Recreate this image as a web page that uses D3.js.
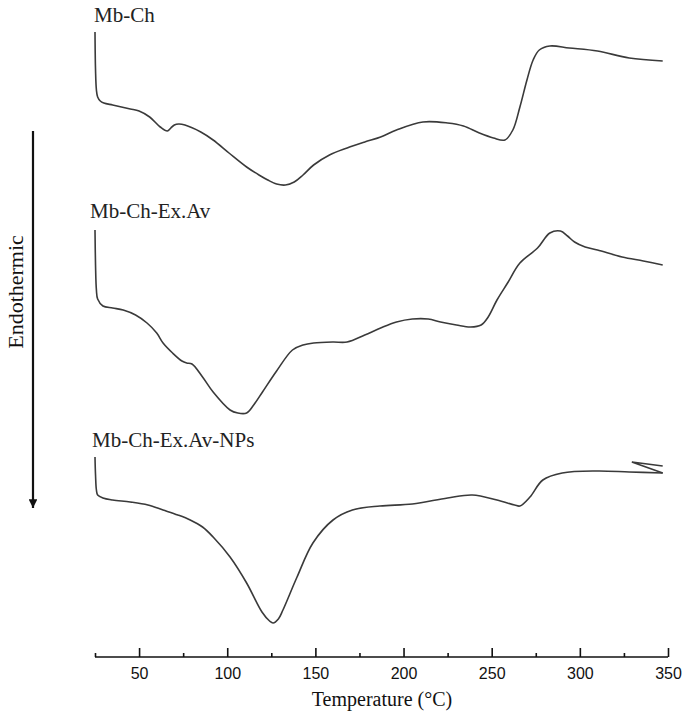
<!DOCTYPE html>
<html>
<head>
<meta charset="utf-8">
<script src="https://cdn.jsdelivr.net/npm/d3@7"></script>
<style>
  body { margin: 0; background: #fff; }
</style>
</head>
<body>
<div id="chart"></div>
<script>
// DSC thermograms, heat flow in arbitrary units (endothermic = larger value, drawn downward)
var mbChT = [25, 25.3, 25.8, 26.5, 28, 30, 35, 40, 45, 50, 56, 62, 66, 68, 70, 72.5, 76, 85, 92, 101, 111, 118, 123, 128, 133, 138, 143, 149, 158, 168, 178, 187, 196, 211, 225, 234, 243, 251, 257.5, 262, 266, 270, 273.5, 277, 283, 294, 310, 328, 347];
var mbChV = [1.5, 5.3, 7.3, 8.0, 8.4, 8.6, 8.8, 9.0, 9.2, 9.4, 10.0, 11.0, 11.4, 11.1, 10.8, 10.7, 10.8, 11.5, 12.3, 13.6, 15.0, 15.8, 16.3, 16.7, 16.8, 16.5, 15.8, 14.8, 13.8, 13.1, 12.5, 12.0, 11.3, 10.5, 10.6, 10.9, 11.6, 12.1, 12.3, 11.3, 9.0, 6.3, 4.3, 3.3, 2.9, 3.1, 3.4, 4.1, 4.4];

var exAvT = [25, 25.3, 25.8, 26.5, 29.5, 35, 41, 48, 54.5, 60, 63.6, 69, 74.3, 77, 80, 86, 92, 101.6, 106, 111, 115, 120, 128, 137, 143, 149, 160, 168, 178, 187, 196, 205, 214, 221, 230, 238, 244, 248, 253, 259, 266, 276, 283, 289, 293, 297, 303, 310, 324, 336, 347];
var exAvV = [21.3, 24.8, 27.3, 28.2, 28.9, 29.1, 29.3, 29.8, 30.6, 31.6, 32.6, 33.6, 34.4, 34.6, 34.7, 36.0, 37.5, 39.3, 39.6, 39.6, 38.8, 37.5, 35.4, 33.3, 32.8, 32.6, 32.5, 32.5, 31.8, 31.1, 30.5, 30.2, 30.2, 30.5, 30.8, 31.0, 30.8, 30.0, 28.3, 26.6, 24.6, 23.1, 21.6, 21.4, 21.9, 22.5, 23.0, 23.3, 24.0, 24.4, 24.8];

var npsT = [25, 25.3, 25.8, 26.5, 29.5, 35, 45, 55, 63.6, 72, 79, 86, 92, 101.6, 111, 119.7, 124, 126, 129, 131.6, 139.6, 148.6, 160, 171, 186.6, 205, 225, 239, 253, 263, 266, 271.7, 279, 290, 310, 328, 347];
var npsV = [44.0, 45.8, 47.3, 47.8, 48.1, 48.3, 48.5, 48.8, 49.3, 49.8, 50.3, 51.0, 52.0, 54.0, 56.6, 59.5, 60.4, 60.6, 60.2, 59.3, 56.0, 52.6, 50.3, 49.3, 48.9, 48.7, 48.1, 47.8, 48.3, 48.8, 48.9, 48.0, 46.3, 45.6, 45.4, 45.5, 45.6];
// cooling artefact at the end of the NPs run
var npsTailT = [347, 329.5, 347];
var npsTailV = [45.6, 44.5, 44.9];

var seriesNames = ["Mb-Ch", "Mb-Ch-Ex.Av", "Mb-Ch-Ex.Av-NPs"];
var xTicks = [25, 50, 75, 100, 125, 150, 175, 200, 225, 250, 275, 300, 325, 350];

var svgWidth = 685;
var svgHeight = 720;

var svg = d3.select("#chart")
    .append("svg")
    .attr("width", svgWidth)
    .attr("height", svgHeight);

var xScale = d3.scaleLinear()
    .domain([25, 350])
    .range([95, 668]);

// value grows downward, like the endothermic arrow
var yScale = d3.scaleLinear()
    .domain([0, 64])
    .range([17, 657]);

function zip(ts, vs) {
    return ts.map((t, i) => ({ t: t, v: vs[i] }));
}

var smoothLine = d3.line()
    .x(d => xScale(d.t))
    .y(d => yScale(d.v))
    .curve(d3.curveCatmullRom.alpha(0.5));

var straightLine = d3.line()
    .x(d => xScale(d.t))
    .y(d => yScale(d.v));

var curves = [zip(mbChT, mbChV), zip(exAvT, exAvV), zip(npsT, npsV)];

svg.selectAll("path.curve")
    .data(curves)
    .enter()
    .append("path")
    .attr("class", "curve")
    .attr("d", smoothLine)
    .attr("fill", "none")
    .attr("stroke", "#3a3a3a")
    .attr("stroke-width", 1.6);

svg.append("path")
    .attr("d", straightLine(zip(npsTailT, npsTailV)))
    .attr("fill", "none")
    .attr("stroke", "#3a3a3a")
    .attr("stroke-width", 1.6);

// curve labels
var labelPos = [[94, 22], [90, 218], [92, 447]];
svg.selectAll("text.series")
    .data(seriesNames)
    .enter()
    .append("text")
    .attr("class", "series")
    .attr("x", (d, i) => labelPos[i][0])
    .attr("y", (d, i) => labelPos[i][1])
    .attr("font-family", "'Liberation Serif', 'Times New Roman', serif")
    .attr("font-size", 21)
    .attr("fill", "#222")
    .text(d => d);

// x axis, ticks pointing up, labels every 50
var xAxis = d3.axisBottom(xScale)
    .tickValues(xTicks)
    .tickSize(-9)
    .tickPadding(11)
    .tickFormat(d => d % 50 === 0 ? d : "");

var axisG = svg.append("g")
    .attr("transform", "translate(0, 657)")
    .call(xAxis);

axisG.select(".domain")
    .attr("stroke", "#111")
    .attr("stroke-width", 1.6)
    .attr("d", `M${xScale(25)},0H${xScale(350)}`);

axisG.selectAll(".tick line")
    .attr("stroke", "#111")
    .attr("stroke-width", 1.6)
    .attr("y2", d => d % 50 === 0 ? -9 : -4);

axisG.selectAll(".tick text")
    .attr("font-family", "'Liberation Sans', Arial, sans-serif")
    .attr("font-size", 16)
    .attr("fill", "#111");

svg.append("text")
    .attr("x", 382)
    .attr("y", 706)
    .attr("text-anchor", "middle")
    .attr("font-family", "'Liberation Serif', 'Times New Roman', serif")
    .attr("font-size", 20)
    .attr("fill", "#111")
    .text("Temperature (°C)");

// endothermic arrow
svg.append("defs").append("marker")
    .attr("id", "head")
    .attr("viewBox", "0 0 10 10")
    .attr("refX", 10)
    .attr("refY", 5)
    .attr("markerWidth", 4)
    .attr("markerHeight", 4)
    .attr("orient", "auto")
    .append("path")
    .attr("d", "M0,0L10,5L0,10Z")
    .attr("fill", "#111");

svg.append("line")
    .attr("x1", 33)
    .attr("x2", 33)
    .attr("y1", 131)
    .attr("y2", 508)
    .attr("stroke", "#111")
    .attr("stroke-width", 2.2)
    .attr("marker-end", "url(#head)");

svg.append("text")
    .attr("transform", "translate(23, 292) rotate(-90)")
    .attr("text-anchor", "middle")
    .attr("font-family", "'Liberation Serif', 'Times New Roman', serif")
    .attr("font-size", 22)
    .attr("fill", "#111")
    .text("Endothermic");
</script>
</body>
</html>
